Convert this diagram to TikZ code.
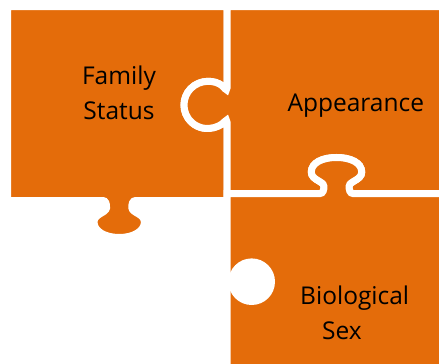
\documentclass[tikz,border=0pt]{standalone}
\usepackage{fontspec}
\setmainfont{Open Sans}
\definecolor{puzzle}{HTML}{E46C0A}
\begin{document}
\begin{tikzpicture}[x=1pt,y=-1pt,
	piece/.style={fill=puzzle,draw=white,line width=7pt},
	piecetext/.style={font=\fontsize{24.5}{35}\selectfont,inner sep=0pt},
	vseam/.style={insert path={[rounded corners=4pt] -- (227,91.9)
		arc[start angle=-33.9,end angle=-326.1,radius=23.5] -- (227,150) [sharp corners]}},
	hseam/.style={insert path={-- (320,193.5)
		.. controls (323,193.5) and (324.2,190) .. (323.8,186)
		.. controls (323.3,181) and (311.3,180) .. (311.3,172)
		.. controls (311.3,163) and (322,157.5) .. (336.5,157.5)
		.. controls (351,157.5) and (361.7,163) .. (361.7,172)
		.. controls (361.7,180) and (349.7,181) .. (349.2,186)
		.. controls (348.8,190) and (350,193.5) .. (353,193.5) -- (445,193.5)}}]
\useasboundingbox (0,0) rectangle (439,364);
\clip (0,0) rectangle (439,364);
% top left piece, tab at the bottom
\draw[piece] (7.5,6.5) -- (227,6.5) [vseam] -- (227,200.5) -- (135.7,200.5)
	.. controls (132.7,200.5) and (131.5,204) .. (131.9,208)
	.. controls (132.4,213) and (144.4,214) .. (144.4,222)
	.. controls (144.4,231) and (133.7,237.5) .. (119.2,237.5)
	.. controls (104.7,237.5) and (94,231) .. (94,222)
	.. controls (94,214) and (106,213) .. (106.5,208)
	.. controls (106.9,204) and (105.7,200.5) .. (102.7,200.5)
	-- (7.5,200.5) -- cycle;
% top right piece
\draw[piece] (227,6.5) [vseam] -- (227,193.5) [hseam] -- (445,6.5) -- cycle;
% bottom right piece, hole on the left
\draw[piece] (227,193.5) [hseam] -- (445,370) -- (227,370) -- cycle;
\fill[white] (251.7,281.7) circle[radius=23.3];
\path
	(119,92.4) node[piecetext,align=center] (family) {Family\\Status}
	(355.8,111.7) node[piecetext,anchor=base] (appearance) {Appearance}
	(300,313.2) node[piecetext,align=left,anchor=west] (biosex) {Biological\\\hspace*{22pt}Sex};
\end{tikzpicture}
\end{document}
